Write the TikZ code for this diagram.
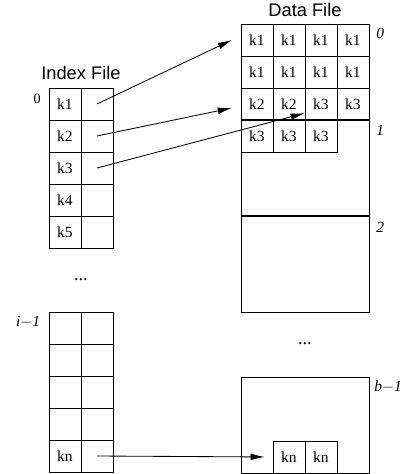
\documentclass[tikz,border=0pt]{standalone}
\usepackage{fontspec}
\setmainfont{Liberation Serif}
\setsansfont{Liberation Sans}
\usepackage{tikz}
\usetikzlibrary{arrows.meta}
\tikzset{>=latex}

\begin{document}
\begin{tikzpicture}[x=0.8cm,y=-0.8cm,line width=0.6pt,
        cell/.style={draw,minimum size=0.8cm,inner sep=0pt,
            font=\fontsize{11}{13}\selectfont},
        filetitle/.style={font=\sffamily\fontsize{13}{15}\selectfont},
        blocknum/.style={font=\itshape\fontsize{11}{13}\selectfont},
        gap/.style={anchor=base,font=\fontsize{13}{15}\selectfont},
        ptr/.style={-{Latex[length=3.5mm,width=1.7mm]}},
        ]
    \useasboundingbox (0,0) rectangle (13.0625,14.8125);
    % index file, first block
    \foreach \k in {1,...,5}{
        \node[cell] (ik\k) at (2.03,2.25+\k) {k\k};
        \node[cell] (ip\k) at (3.03,2.25+\k) {};
    }
    % index file, last block
    \foreach \k in {1,...,5}{
        \node[cell] (jk\k) at (2.03,9.25+\k) {};
        \node[cell] (jp\k) at (3.03,9.25+\k) {};
    }
    \node[font=\fontsize{11}{13}\selectfont] at (jk5) {kn};
    \node[filetitle] (ititle) at (2.53,2.28) {Index File};
    \node (izero) at (1.16,3.09) {0};
    \node[blocknum] (ilast) at (0.88,10.06) {i$-$1};
    \node[gap] (idots) at (2.53,8.75) {...};

    % data file
    \foreach \keys [count=\i] in {{k1,k1,k1,k1},{k1,k1,k1,k1},{k2,k2,k3,k3},{k3,k3,k3}}{
        \foreach \t [count=\j] in \keys
            \node[cell] (d\i\j) at (7.03+\j,0.25+\i) {\t};
    }
    \draw (7.53,0.75) rectangle (11.53,9.75);
    \draw[line width=1.2pt] (7.53,3.75) -- (11.53,3.75);
    \draw[line width=1.2pt] (7.53,6.75) -- (11.53,6.75);
    \draw (7.53,11.78) rectangle (11.53,14.78);
    \node[cell] (dn1) at (9.03,14.28) {kn};
    \node[cell] (dn2) at (10.03,14.28) {kn};
    \node[filetitle] (dtitle) at (9.53,0.31) {Data File};
    \node[blocknum] (b0) at (11.88,1.06) {0};
    \node[blocknum] (b1) at (11.88,4.09) {1};
    \node[blocknum] (b2) at (11.88,7.09) {2};
    \node[blocknum] (blast) at (12.13,12.09) {b$-$1};
    \node[gap] (ddots) at (9.53,10.75) {...};

    % pointers
    \draw[ptr] (ip1.center) -- ([xshift=-2.2mm]d11.west);
    \draw[ptr] (ip2.center) -- ([xshift=-2.2mm,yshift=-1mm]d31.west);
    \draw[ptr] (ip3.center) -- ([yshift=1.8mm]d33.south west);
    \draw[ptr] (jp5.center) -- ([xshift=-2mm]dn1.west);
\end{tikzpicture}
\end{document}
